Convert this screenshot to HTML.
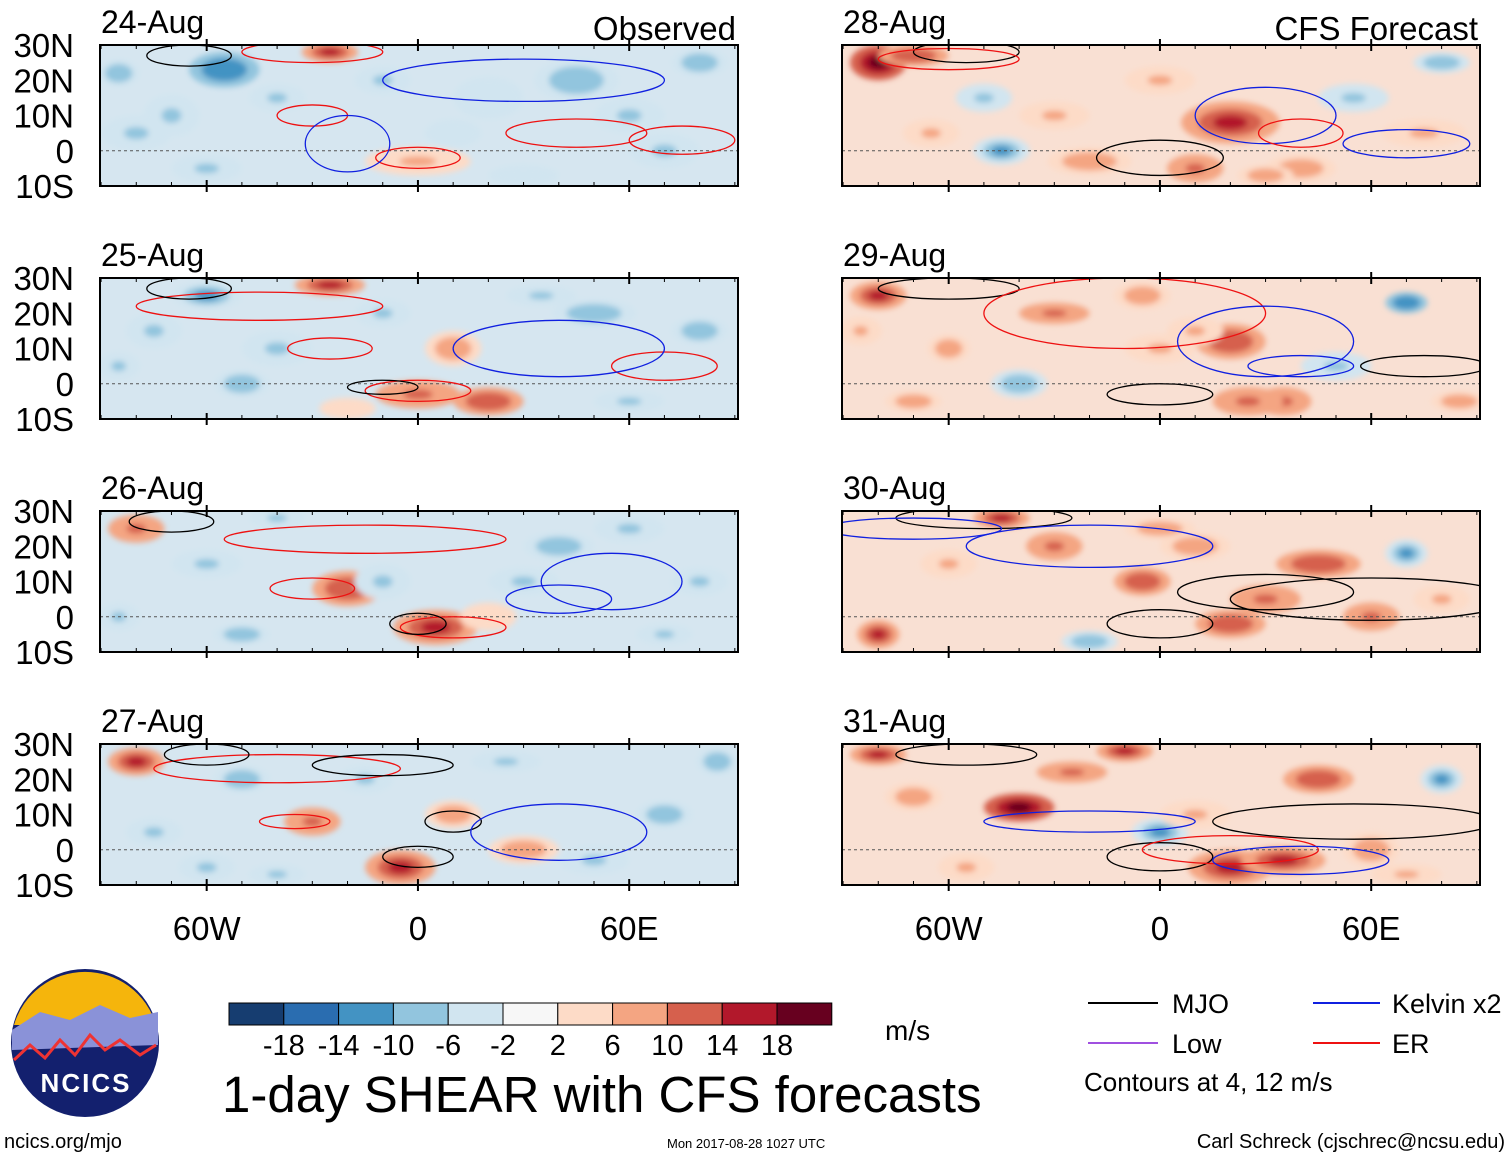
<!DOCTYPE html>
<html><head><meta charset="utf-8"><style>
body{margin:0;background:#fff;width:1510px;height:1158px;overflow:hidden;font-family:"Liberation Sans",sans-serif}
svg text{font-family:"Liberation Sans",sans-serif}
</style></head><body>
<svg id="s" width="1510" height="1158" xmlns="http://www.w3.org/2000/svg">
<defs><filter id="bl" x="-50%" y="-50%" width="200%" height="200%"><feGaussianBlur stdDeviation="3"/></filter>
<clipPath id="c0"><rect x="100" y="45" width="638" height="141"/></clipPath>
<clipPath id="c1"><rect x="842" y="45" width="638" height="141"/></clipPath>
<clipPath id="c2"><rect x="100" y="278" width="638" height="141"/></clipPath>
<clipPath id="c3"><rect x="842" y="278" width="638" height="141"/></clipPath>
<clipPath id="c4"><rect x="100" y="511" width="638" height="141"/></clipPath>
<clipPath id="c5"><rect x="842" y="511" width="638" height="141"/></clipPath>
<clipPath id="c6"><rect x="100" y="744" width="638" height="141"/></clipPath>
<clipPath id="c7"><rect x="842" y="744" width="638" height="141"/></clipPath>
</defs>
</svg>
<script>
const dates=["24-Aug","28-Aug","25-Aug","29-Aug","26-Aug","30-Aug","27-Aug","31-Aug"];
// blobs per panel: lon, lat, value (m/s), radius lon, radius lat
const blobLon=[[-55,-25,-70,45,60,0,-80,20,70,-40,-10,30,80,-60,10,-85],[-80,-70,-20,20,10,40,75,-45,-50,-30,55,80,0,-65,30],[-60,-25,-75,10,50,0,20,-40,-85,60,80,-10,35,-50,-20],[-80,-60,20,35,-40,-5,10,70,-85,-30,50,85,0,25,-70],[-80,-40,-20,5,-10,40,60,20,-60,80,-50,30,-85,70],[-45,-30,-5,20,30,-80,60,70,-60,0,45,80,-20,10],[-80,-30,-60,10,-5,30,50,-50,-15,70,85,-75,25,-40],[-40,-10,-80,20,35,60,-55,0,80,-70,45,-25,10,70]];
const blobLat=[[23,28,10,20,10,-3,5,15,0,15,20,-7,25,-5,5,22],[25,27,-3,8,-5,-5,5,0,15,10,15,25,20,5,-7],[25,28,15,10,20,-3,-5,10,5,-5,15,20,25,0,-7],[25,10,12,-5,0,25,15,23,15,20,5,-5,10,-5,-5],[25,28,8,-3,10,20,25,0,15,10,-5,10,0,-5],[28,20,10,-2,5,-5,0,18,15,25,15,5,-7,20],[25,8,-5,10,-5,0,-3,20,20,10,25,5,25,-7],[12,28,27,-5,-3,0,-5,5,20,15,20,22,10,-7]];
const blobVal=[[-12,16,-6,-8,-6,6,-6,-5,-6,-6,-6,-4,-8,-6,-4,-8],[20,12,8,14,10,8,6,-10,-6,6,-6,-8,6,6,8],[-10,14,-6,8,-8,10,12,-6,-6,-6,-8,-6,-6,-8,4],[16,8,12,10,-8,8,6,-12,6,10,-6,8,6,10,8],[10,-6,12,16,-6,-8,-6,4,-6,-6,-8,-6,-6,-6],[14,10,12,12,10,16,10,-10,6,8,12,6,-8,8],[14,10,-6,8,14,8,-6,-8,-6,-8,-8,-6,-6,-6],[18,14,14,14,16,8,6,-10,-10,8,12,10,6,6]];
const blobRx=[[10,8,8,12,10,15,10,10,10,8,8,10,8,10,8,6],[8,10,12,14,8,10,12,8,8,10,10,8,10,8,8],[10,10,8,8,12,12,10,10,6,10,8,8,10,8,8],[8,6,10,8,8,8,8,6,6,10,10,8,10,10,8],[8,8,10,12,8,10,10,8,10,8,8,10,6,8],[8,8,8,10,10,6,8,6,8,10,12,8,8,10],[8,8,8,8,10,10,10,8,8,8,6,8,10,8],[10,8,8,12,12,8,8,8,6,8,10,10,10,10]];
const blobRy=[[5,3,6,6,5,4,5,6,5,4,4,3,4,4,4,4],[5,3,4,6,4,4,4,4,4,4,4,3,4,4,3],[4,3,5,5,4,4,4,5,4,3,4,4,3,4,3],[4,4,5,4,4,4,4,3,4,3,4,3,4,4,3],[4,3,5,5,5,4,4,4,4,4,3,4,4,3],[3,4,4,4,4,4,4,4,4,3,4,4,3,4],[4,4,4,4,5,4,4,4,4,4,4,4,3,3],[4,3,3,5,4,5,4,4,4,4,4,3,4,3]];
// contours per panel: lon, lat, radius lon, radius lat, type
const conLon=[[0,-30,45,75,-20,30,-65,-30],[0,30,-55,70,40,-60],[0,-25,-45,70,-10,40,-65],[0,40,-60,75,-10,30],[10,-30,-15,40,0,-70,55],[0,-50,30,60,-70,-20],[0,-35,-40,-10,10,40,-60],[0,20,-55,-20,55,40]];
const conLat=[[-2,10,5,3,2,20,27,28],[-2,10,28,2,5,26],[-2,10,22,5,-1,10,27],[-3,5,27,5,20,12],[-3,8,22,5,-2,27,10],[-2,28,7,5,25,20],[-2,8,23,24,8,5,27],[-2,0,27,8,8,-3]];
const conRx=[[12,10,20,15,12,40,12,20],[18,20,15,18,12,20],[15,12,35,15,10,30,12],[15,15,20,18,40,25],[15,12,40,15,8,12,20],[15,25,25,40,25,35],[10,10,35,20,8,25,12],[15,25,20,30,40,25]];
const conRy=[[3,3,4,4,8,6,3,3],[5,8,3,4,4,3],[3,3,4,4,2,8,3],[3,3,3,3,10,10],[3,3,4,4,3,3,8],[4,3,5,6,3,6],[3,2,4,3,3,8,3],[4,4,3,3,5,4]];
const conType=[["ER","ER","ER","ER","K","K","MJO","ER"],["MJO","K","MJO","K","ER","ER"],["ER","ER","ER","ER","MJO","K","MJO"],["MJO","K","MJO","MJO","ER","K"],["ER","ER","ER","K","MJO","MJO","K"],["MJO","MJO","MJO","MJO","K","K"],["MJO","ER","ER","MJO","MJO","K","MJO"],["MJO","ER","MJO","K","MJO","K"]];
const cbLabels=["-18","-14","-10","-6","-2","2","6","10","14","18"];
const cbColors=["#163d70","#2a6db0","#4393c3","#92c5de","#d1e5f0","#f7f7f7","#fddbc7","#f4a582","#d6604d","#b2182b","#67001f"];
const latTicks=["30N","20N","10N","0","10S"],latVals=[30,20,10,0,-10];
const lonTicks=["60W","0","60E"],lonVals=[-60,0,60];

const S=document.getElementById('s'),NS="http://www.w3.org/2000/svg";
function mk(t,a,p){const e=document.createElementNS(NS,t);for(const k in a)e.setAttribute(k,a[k]);(p||S).appendChild(e);return e;}
function col(v){let i=Math.floor((v+22)/4);return cbColors[Math.max(0,Math.min(10,i))];}
const W=638,H=141;
const cc={ER:"#ee1111",K:"#1020e0",MJO:"#000"};
for(let p=0;p<8;p++){
  const ox=p%2?842:100, oy=45+Math.floor(p/2)*233;
  const X=l=>ox+(l+90.3)*W/181.2, Y=la=>oy+(30-la)*H/40;
  const g=mk('g',{'clip-path':`url(#c${p})`});
  
  
  mk('rect',{x:ox,y:oy,width:W,height:H,fill:p%2?'#f9e0d3':'#d6e6f0'},g);
  const bg=mk('g',{filter:'url(#bl)'},g);
  blobLon[p].forEach((l,i)=>{
    const v=blobVal[p][i],rx=blobRx[p][i]*W/181.2,ry=blobRy[p][i]*H/40;
    const e=mk('ellipse',{cx:X(l),cy:Y(blobLat[p][i]),rx:rx,ry:ry,fill:col(v*0.6)},bg);
    
    mk('ellipse',{cx:X(l),cy:Y(blobLat[p][i]),rx:rx*0.65,ry:ry*0.65,fill:col(v*0.85)},bg);
    mk('ellipse',{cx:X(l),cy:Y(blobLat[p][i]),rx:rx*0.35,ry:ry*0.35,fill:col(v*1.1)},bg);
  });
  mk('line',{x1:ox,x2:ox+W,y1:Y(0),y2:Y(0),stroke:'#555','stroke-dasharray':'3,3','stroke-width':1},g);
  conLon[p].forEach((l,i)=>{
    const e=mk('ellipse',{cx:X(l),cy:Y(conLat[p][i]),rx:conRx[p][i]*W/181.2,ry:conRy[p][i]*H/40,fill:'none',stroke:cc[conType[p][i]],'stroke-width':1.3},g);
    
    
  });
  const fr=mk('rect',{x:ox,y:oy,width:W,height:H,fill:'none',stroke:'#000','stroke-width':2});
  
  for(let d=-90;d<=90;d+=10){mk('line',{x1:X(d),x2:X(d),y1:oy,y2:oy+4,stroke:'#000'});mk('line',{x1:X(d),x2:X(d),y1:oy+H,y2:oy+H-4,stroke:'#000'});}
  lonVals.forEach(v=>{mk('line',{x1:X(v),x2:X(v),y1:oy-6,y2:oy+6,stroke:'#000','stroke-width':2});mk('line',{x1:X(v),x2:X(v),y1:oy+H-6,y2:oy+H+6,stroke:'#000','stroke-width':2});});
  const dt=mk('text',{x:ox+1,y:oy-12,'font-size':32});dt.textContent=dates[p];
  
  if(p<2){const t=mk('text',{x:ox+W-2,y:oy-5,'font-size':33,'text-anchor':'end'});t.textContent=p?"CFS Forecast":"Observed";
    }
  if(p%2==0){latVals.forEach((v,i)=>{const t=mk('text',{x:74,y:Y(v)+12,'font-size':33,'text-anchor':'end'});t.textContent=latTicks[i];
    });}
  if(p>=6){lonVals.forEach((v,i)=>{const t=mk('text',{x:X(v),y:940,'font-size':33,'text-anchor':'middle'});t.textContent=lonTicks[i];
    });}
}
const cbx=229,cbw=54.8;
cbColors.forEach((c,i)=>{const r=mk('rect',{x:cbx+i*cbw,y:1003,width:cbw,height:22,fill:c,stroke:'#000','stroke-width':1});
  });
cbLabels.forEach((l,i)=>{const t=mk('text',{x:cbx+(i+1)*cbw,y:1055,'font-size':29,'text-anchor':'middle'});t.textContent=l;
  });
</script>
<svg style="position:absolute;left:0;top:0" width="1510" height="1158" xmlns="http://www.w3.org/2000/svg">
<g>
<circle cx="85" cy="1043" r="74" fill="#13206e"/>
<path d="M14,1025 A74,74 0 0 1 156,1025 Z" fill="#f5b50c"/>
<path d="M12,1030 L40,1012 L70,1020 L100,1005 L130,1018 L158,1012 L158,1045 L12,1050 Z" fill="#8a92d8"/>
<path d="M14,1060 L30,1045 L45,1058 L60,1040 L75,1055 L90,1035 L105,1050 L120,1040 L140,1055 L156,1045" stroke="#e33" stroke-width="3" fill="none"/>
<text x="86" y="1092" font-size="26" font-weight="bold" fill="#fff" text-anchor="middle" letter-spacing="2">NCICS</text>
</g>
<text x="885" y="1040" font-size="28">m/s</text>
<text x="222" y="1112" font-size="51">1-day SHEAR with CFS forecasts</text>
<g>
<line x1="1088" y1="1003" x2="1158" y2="1003" stroke="#000" stroke-width="2"/><text x="1172" y="1013" font-size="27">MJO</text>
<line x1="1313" y1="1003" x2="1380" y2="1003" stroke="#1020e0" stroke-width="2"/><text x="1392" y="1013" font-size="27">Kelvin x2</text>
<line x1="1088" y1="1043" x2="1158" y2="1043" stroke="#a050e0" stroke-width="2"/><text x="1172" y="1053" font-size="27">Low</text>
<line x1="1313" y1="1043" x2="1380" y2="1043" stroke="#ee1111" stroke-width="2"/><text x="1392" y="1053" font-size="27">ER</text>
<text x="1084" y="1091" font-size="26">Contours at 4, 12 m/s</text>
</g>
<text x="4" y="1148" font-size="20">ncics.org/mjo</text>
<text x="667" y="1148" font-size="13">Mon 2017-08-28 1027 UTC</text>
<text x="1505" y="1148" font-size="20" text-anchor="end">Carl Schreck (cjschrec@ncsu.edu)</text>
</svg>
</body></html>
